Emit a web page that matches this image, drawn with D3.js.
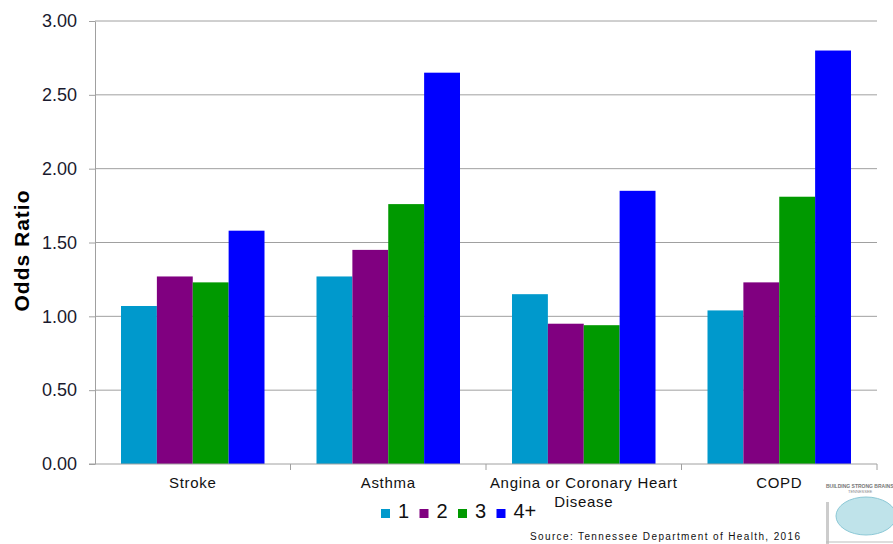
<!DOCTYPE html>
<html>
<head>
<meta charset="utf-8">
<script src="https://cdn.jsdelivr.net/npm/d3@7"></script>
<style>
  body { margin: 0; background: #fff; }
  svg { font-family: "Liberation Sans", Arial, sans-serif; }
</style>
</head>
<body>
<script>
'use strict';

// chart data
const categories = ["Stroke", "Asthma", "Angina or Coronary Heart Disease", "COPD"];
const series = ["1", "2", "3", "4+"];
const values1 = [1.07, 1.27, 1.15, 1.04];
const values2 = [1.27, 1.45, 0.95, 1.23];
const values3 = [1.23, 1.76, 0.94, 1.81];
const values4 = [1.58, 2.65, 1.85, 2.80];
const yTicks = [0, 0.5, 1, 1.5, 2, 2.5, 3];
const colors = ["#0099cc", "#800080", "#009900", "#0000ff"];

const allValues = [values1, values2, values3, values4];

const width = 893, height = 544;
const margin = {top: 21, right: 16, bottom: 80, left: 95};

const svg = d3.select("body").append("svg")
  .attr("width", width)
  .attr("height", height);

const innerW = width - margin.left - margin.right;
const innerH = height - margin.top - margin.bottom;

const x0 = d3.scaleBand()
  .domain(categories)
  .range([0, innerW])
  .paddingInner(0)
  .paddingOuter(0);

const x1 = d3.scaleBand()
  .domain(series)
  .range([26, x0.bandwidth() - 26]);

const y = d3.scaleLinear()
  .domain([0, 3])
  .range([innerH, 0]);

const g = svg.append("g")
  .attr("transform", "translate(" + margin.left + "," + margin.top + ")");

// gridlines
g.selectAll(".grid")
  .data(yTicks.slice(1))
  .enter().append("line")
  .attr("x1", 0)
  .attr("x2", innerW)
  .attr("y1", d => y(d))
  .attr("y2", d => y(d))
  .attr("stroke", "#a0a0a0")
  .attr("stroke-width", 1);

// bars
const groups = g.selectAll(".group")
  .data(categories)
  .enter().append("g")
  .attr("transform", d => "translate(" + x0(d) + ",0)");

groups.selectAll("rect")
  .data((d, i) => series.map((s, j) => ({s: s, v: allValues[j][i], c: colors[j]})))
  .enter().append("rect")
  .attr("x", d => x1(d.s))
  .attr("width", x1.bandwidth())
  .attr("y", d => y(d.v))
  .attr("height", d => innerH - y(d.v))
  .attr("fill", d => d.c);

// y axis
const yAxis = g.append("g")
  .call(d3.axisLeft(y).tickValues(yTicks).tickFormat(d3.format(".2f")).tickSize(6).tickSizeOuter(0));
yAxis.select(".domain").attr("stroke", "#a0a0a0");
yAxis.selectAll(".tick line").attr("stroke", "#a0a0a0");
yAxis.selectAll("text")
  .attr("x", -18)
  .style("font-size", "18px")
  .attr("fill", "#1a1a2e");

// x axis with ticks at category boundaries
const xAxisG = g.append("g")
  .attr("transform", "translate(0," + innerH + ")");
xAxisG.append("line")
  .attr("x1", -6).attr("x2", innerW)
  .attr("stroke", "#a0a0a0");
xAxisG.selectAll(".btick")
  .data(categories)
  .enter().append("line")
  .attr("x1", d => x0(d) + x0.bandwidth())
  .attr("x2", d => x0(d) + x0.bandwidth())
  .attr("y1", 0).attr("y2", 6)
  .attr("stroke", "#a0a0a0");

// category labels (wrap the long one)
const catLabels = {
  "Stroke": ["Stroke"],
  "Asthma": ["Asthma"],
  "Angina or Coronary Heart Disease": ["Angina or Coronary Heart", "Disease"],
  "COPD": ["COPD"]
};
xAxisG.selectAll(".cat")
  .data(categories)
  .enter().append("text")
  .attr("x", d => x0(d) + x0.bandwidth() / 2)
  .attr("y", 24)
  .attr("text-anchor", "middle")
  .style("font-size", "15px")
  .style("letter-spacing", "0.7px")
  .attr("fill", "#111")
  .each(function(d) {
    const t = d3.select(this);
    catLabels[d].forEach((line, i) => {
      t.append("tspan")
        .attr("x", x0(d) + x0.bandwidth() / 2)
        .attr("dy", i === 0 ? 0 : 19)
        .text(line);
    });
  });

// y title
svg.append("text")
  .attr("transform", "translate(29," + 251 + ")rotate(-90)")
  .attr("text-anchor", "middle")
  .style("font-size", "21px")
  .style("font-weight", "bold")
  .attr("textLength", 121)
  .attr("lengthAdjust", "spacing")
  .text("Odds Ratio");

// legend
const legend = svg.append("g")
  .attr("transform", "translate(381,518)");
const legendX = [0, 38.5, 77, 115.5];
series.forEach((s, i) => {
  legend.append("rect")
    .attr("x", legendX[i])
    .attr("y", -9)
    .attr("width", 9)
    .attr("height", 9)
    .attr("fill", colors[i]);
  legend.append("text")
    .attr("x", legendX[i] + 17)
    .attr("y", 0)
    .style("font-size", "20px")
    .attr("fill", "#111")
    .text(s);
});

// source note
svg.append("text")
  .attr("x", 530)
  .attr("y", 540)
  .style("font-size", "10px")
  .attr("textLength", 270)
  .attr("lengthAdjust", "spacing")
  .attr("fill", "#111")
  .text("Source: Tennessee Department of Health, 2016");

// logo placeholder
const logo = svg.append("g").attr("transform", "translate(826,484)");
logo.append("text")
  .attr("x", 0).attr("y", 4)
  .style("font-size", "5px")
  .style("font-weight", "bold")
  .attr("fill", "#777")
  .text("BUILDING STRONG BRAINS");
logo.append("text")
  .attr("x", 22).attr("y", 9)
  .style("font-size", "4px")
  .attr("fill", "#888")
  .text("TENNESSEE");
logo.append("ellipse")
  .attr("cx", 40).attr("cy", 32)
  .attr("rx", 30).attr("ry", 19)
  .attr("fill", "#bfe3ea")
  .attr("stroke", "#8cc8d6");
logo.append("rect")
  .attr("x", 0).attr("y", 18)
  .attr("width", 3).attr("height", 42)
  .attr("fill", "#ccc");
logo.append("line")
  .attr("x1", 0).attr("x2", 67)
  .attr("y1", 58).attr("y2", 58)
  .attr("stroke", "#bbb");
</script>
</body>
</html>
